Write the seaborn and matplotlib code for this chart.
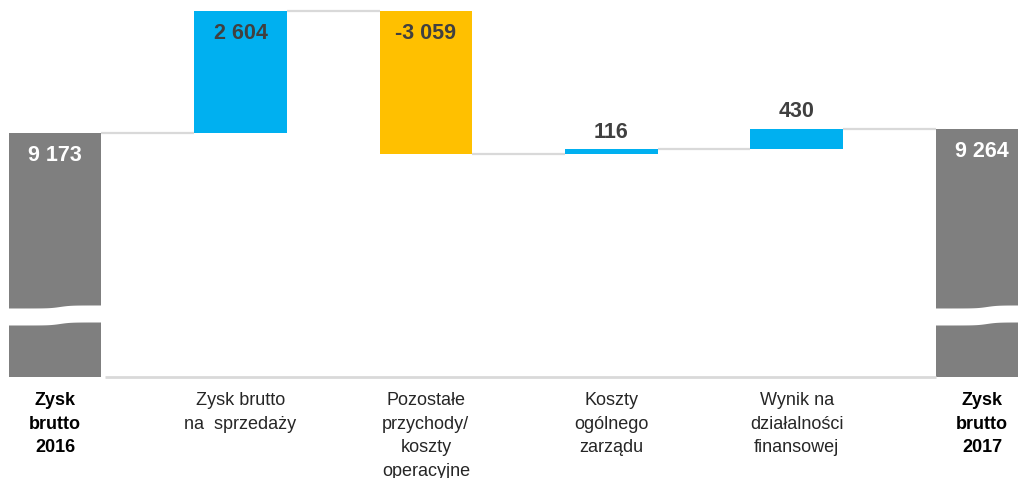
import numpy as np
import matplotlib
matplotlib.use("Agg")
import matplotlib.pyplot as plt
import seaborn as sns

categories = ["Zysk\nbrutto\n2016", "Zysk brutto\nna  sprzedaży", "Pozostałe\nprzychody/\nkoszty\noperacyjne",
              "Koszty\nogólnego\nzarządu", "Wynik na\ndziałalności\nfinansowej", "Zysk\nbrutto\n2017"]
start_value = 9173
deltas = [2604, -3059, 116, 430]
end_value = 9264
colors = ["#7f7f7f", "#00b0f0", "#ffc000", "#00b0f0", "#00b0f0", "#7f7f7f"]

sns.set_theme(style="white")
plt.rcParams["font.family"] = ["Liberation Sans", "DejaVu Sans"]

# waterfall geometry from the data
levels = [start_value]
for d in deltas:
    levels.append(levels[-1] + d)
tops, bottoms = [start_value], [0]
for i, d in enumerate(deltas):
    lo, hi = sorted([levels[i], levels[i + 1]])
    tops.append(hi)
    bottoms.append(lo)
tops.append(end_value)
bottoms.append(0)
values = [start_value] + deltas + [end_value]

ymin, ymax = 3965, 12012
fig = plt.figure(figsize=(10.18, 4.78), dpi=100)
ax = fig.add_axes([0, 0.2113, 1, 0.7887])

x = list(range(len(categories)))
w = 0.5
sns.barplot(x=x, y=tops, hue=x, palette=colors, saturation=1, legend=False, width=w,
            linewidth=0, ax=ax, zorder=2)
sns.barplot(x=x, y=bottoms, color="white", saturation=1, width=w, linewidth=0, ax=ax, zorder=3)

ax.set_xlim(-0.297, 5.194)
ax.set_ylim(ymin, ymax)

# connectors
for i in range(len(categories) - 1):
    lvl = levels[i] if i < len(levels) else end_value
    ax.plot([i + w / 2, i + 1 - w / 2], [lvl, lvl], color="#d9d9d9", lw=1.6, zorder=1,
            solid_capstyle="butt")
# baseline
ax.plot([0 + w / 2 + 0.02, 5 - w / 2], [ymin + 10, ymin + 10], color="#d9d9d9", lw=2,
        zorder=6, clip_on=False, solid_capstyle="butt")

# break marks on total bars
for i in [0, 5]:
    xs = np.linspace(i - w / 2 - 0.02, i + w / 2 + 0.02, 60)
    t = (xs - (i - w / 2)) / w
    s = 1 / (1 + np.exp(-(t - 0.55) * 18))
    top = 5438 + 64 * s
    bot = 5075 + 64 * s
    ax.fill_between(xs, bot, top, color="white", zorder=4, linewidth=0)

# value labels
def fmt(v):
    s = f"{abs(v):,}".replace(",", " ")
    return ("-" if v < 0 else "") + s

for i, v in enumerate(values):
    if i in (0, 5):
        ax.text(i, tops[i] - 490, fmt(v), ha="center", va="center", color="white",
                fontsize=15.5, fontweight="bold", zorder=5)
    elif abs(v) > 1000:
        ax.text(i, tops[i] - 470, fmt(v), ha="center", va="center", color="#404040",
                fontsize=15.5, fontweight="bold", zorder=5)
    else:
        ax.text(i, tops[i] + 360, fmt(v), ha="center", va="center", color="#404040",
                fontsize=15.5, fontweight="bold", zorder=5)

ax.set_xticks(x)
ax.set_xticklabels(categories, fontsize=13, color="#262626", linespacing=1.5)
for j, lab in enumerate(ax.get_xticklabels()):
    if j in (0, 5):
        lab.set_fontweight("bold")
        lab.set_color("black")
ax.tick_params(axis="x", length=0, pad=11)
ax.set_yticks([])
ax.set_xlabel("")
ax.set_ylabel("")
for sp in ax.spines.values():
    sp.set_visible(False)

fig.savefig("out.png", dpi=100)
